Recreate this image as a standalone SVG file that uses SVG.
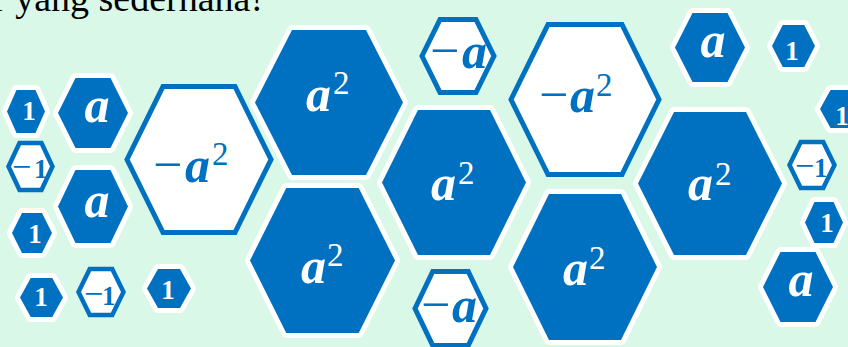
<svg xmlns="http://www.w3.org/2000/svg" width="848" height="347" viewBox="0 0 848 347">
<style>
.bg{fill:#DAF8E7}
.hb{fill:#0070C0;stroke:#FFFFFF;stroke-width:10;stroke-linejoin:round;paint-order:stroke}
.hw{fill:#FFFFFF;stroke:#0070C0;stroke-width:5;stroke-linejoin:miter}
.hws{fill:#FFFFFF;stroke:#0070C0;stroke-width:4.5;stroke-linejoin:miter}
.v{font-family:"Liberation Serif",serif;font-style:italic;font-weight:bold;font-size:50px}
.s{font-family:"Liberation Serif",serif;font-size:33px}
.m{font-family:"Liberation Serif",serif;font-size:52px}
.ms{font-family:"Liberation Serif",serif;font-size:34px}
.one{font-family:"Liberation Serif",serif;font-weight:bold;font-size:27px}
.tw{fill:#FFFFFF}
.tb{fill:#0070C0}
.title{font-family:"Liberation Serif",serif;font-size:38px;fill:#000000}
</style>
<rect class="bg" x="0" y="0" width="848" height="347"/>
<text class="title" x="-7" y="11">r yang sederhana!</text>

<g id="F">
<polygon class="hw" points="127,159.5 163,86.5 235,86.5 271,159.5 235,232.5 163,232.5"/>
<text class="tb"><tspan class="m" x="153" y="182">−</tspan><tspan class="v" x="185" y="182">a</tspan><tspan class="s" x="212" y="165">2</tspan></text>
</g>
<g id="G">
<polygon class="hw" points="511,99.5 548,24.5 622,24.5 659,99.5 622,174.5 548,174.5"/>
<text class="tb"><tspan class="m" x="539" y="112">−</tspan><tspan class="v" x="570" y="112">a</tspan><tspan class="s" x="596" y="96">2</tspan></text>
</g>
<g id="N">
<polygon class="hw" points="422,56 440,19.5 476,19.5 494,56 476,92.5 440,92.5"/>
<text class="tb"><tspan class="m" x="430" y="68">−</tspan><tspan class="v" x="462" y="68">a</tspan></text>
</g>
<g id="O">
<polygon class="hw" points="415,308.5 432.75,271.5 468.25,271.5 486,308.5 468.25,345.5 432.75,345.5"/>
<text class="tb"><tspan class="m" x="421" y="322">−</tspan><tspan class="v" x="452" y="322">a</tspan></text>
</g>
<g id="R">
<polygon class="hws" points="8.5,166.5 19.5,143 41.5,143 52.5,166.5 41.5,190 19.5,190"/>
<text class="tb"><tspan class="ms" x="12" y="178">−</tspan><tspan class="one" x="34" y="178">1</tspan></text>
</g>
<g id="V">
<polygon class="hws" points="78.5,292 89.75,269 112.25,269 123.5,292 112.25,315 89.75,315"/>
<text class="tb"><tspan class="ms" x="84" y="305">−</tspan><tspan class="one" x="102" y="305">1</tspan></text>
</g>
<g id="K">
<polygon class="hws" points="789.5,165 800.75,142 823.25,142 834.5,165 823.25,188 800.75,188"/>
<text class="tb"><tspan class="ms" x="795" y="177">−</tspan><tspan class="one" x="814" y="177">1</tspan></text>
</g>

<g id="A">
<polygon class="hb" points="255,102.5 292,30 366,30 403,102.5 366,175 292,175"/>
<text class="tw"><tspan class="v" x="306" y="111">a</tspan><tspan class="s" x="333" y="94">2</tspan></text>
</g>
<g id="B">
<polygon class="hb" points="250,260.5 286.25,188 358.75,188 395,260.5 358.75,333 286.25,333"/>
<text class="tw"><tspan class="v" x="301" y="283">a</tspan><tspan class="s" x="327" y="266">2</tspan></text>
</g>
<g id="C">
<polygon class="hb" points="382,182.5 418,110 490,110 526,182.5 490,255 418,255"/>
<text class="tw"><tspan class="v" x="431" y="200">a</tspan><tspan class="s" x="458" y="184">2</tspan></text>
</g>
<g id="D">
<polygon class="hb" points="513,267 549,194 621,194 657,267 621,340 549,340"/>
<text class="tw"><tspan class="v" x="563" y="285">a</tspan><tspan class="s" x="589" y="269">2</tspan></text>
</g>
<g id="E">
<polygon class="hb" points="638,183.5 674,112 746,112 782,183.5 746,255 674,255"/>
<text class="tw"><tspan class="v" x="688" y="200">a</tspan><tspan class="s" x="715" y="185">2</tspan></text>
</g>
<g id="H">
<polygon class="hb" points="675,47.5 692.5,13 727.5,13 745,47.5 727.5,82 692.5,82"/>
<text class="v tw" x="713" y="57" text-anchor="middle">a</text>
</g>
<g id="I">
<polygon class="hb" points="772,46 782.75,25 804.25,25 815,46 804.25,67 782.75,67"/>
<text class="one tw" x="792" y="60" text-anchor="middle">1</text>
</g>
<g id="J">
<polygon class="hb" points="820,109 830.5,90 851.5,90 862,109 851.5,128 830.5,128"/>
<text class="one tw" x="842" y="125" text-anchor="middle">1</text>
</g>
<g id="L">
<polygon class="hb" points="805,222.5 814.5,202 833.5,202 843,222.5 833.5,243 814.5,243"/>
<text class="one tw" x="827" y="232" text-anchor="middle">1</text>
</g>
<g id="M">
<polygon class="hb" points="763,287 780.5,252 815.5,252 833,287 815.5,322 780.5,322"/>
<text class="v tw" x="801" y="296" text-anchor="middle">a</text>
</g>
<g id="P">
<polygon class="hb" points="7,111.5 16.5,90 35.5,90 45,111.5 35.5,133 16.5,133"/>
<text class="one tw" x="29" y="120" text-anchor="middle">1</text>
</g>
<g id="Q">
<polygon class="hb" points="58,113 75.5,78 110.5,78 128,113 110.5,148 75.5,148"/>
<text class="v tw" x="97" y="122" text-anchor="middle">a</text>
</g>
<g id="S">
<polygon class="hb" points="58,206.5 75.5,170 110.5,170 128,206.5 110.5,243 75.5,243"/>
<text class="v tw" x="97" y="217" text-anchor="middle">a</text>
</g>
<g id="T">
<polygon class="hb" points="12,233 22,213 42,213 52,233 42,253 22,253"/>
<text class="one tw" x="35" y="243" text-anchor="middle">1</text>
</g>
<g id="U">
<polygon class="hb" points="20,297.5 30.75,278 52.25,278 63,297.5 52.25,317 30.75,317"/>
<text class="one tw" x="41" y="306" text-anchor="middle">1</text>
</g>
<g id="W">
<polygon class="hb" points="147,288.5 158,269 180,269 191,288.5 180,308 158,308"/>
<text class="one tw" x="168" y="299" text-anchor="middle">1</text>
</g>
</svg>
